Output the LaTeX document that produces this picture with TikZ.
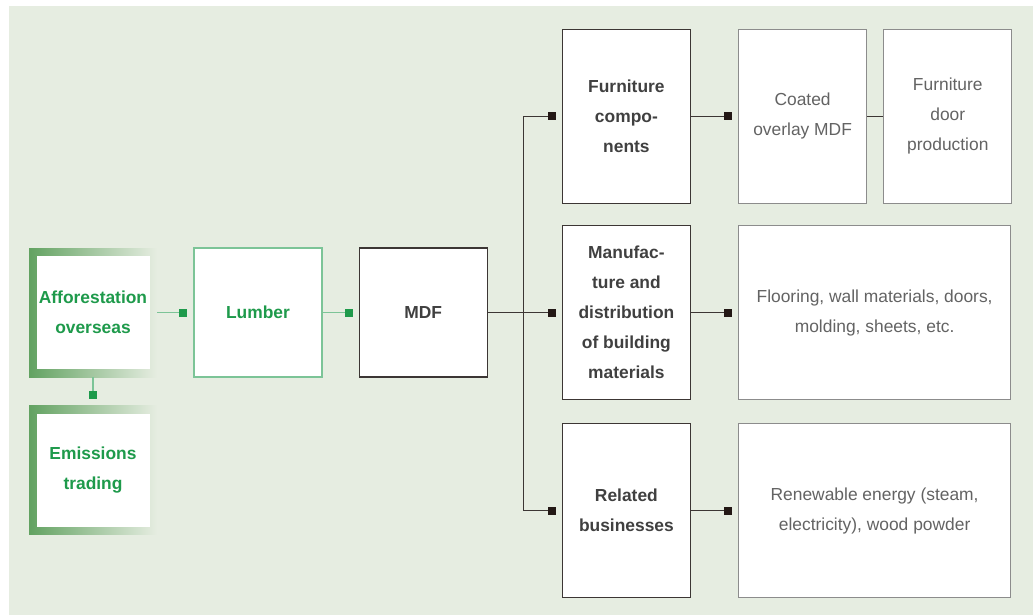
\documentclass[tikz,border=0pt]{standalone}
\usepackage{fontspec}
\setmainfont{Liberation Sans}
\usetikzlibrary{positioning,arrows.meta}

\definecolor{bggreen}{HTML}{E6EDE1}
\definecolor{leafgreen}{HTML}{1E9A4B}
\definecolor{framegreen}{HTML}{62A261}
\definecolor{linegreen}{HTML}{7CC497}
\definecolor{darkline}{HTML}{3C3634}
\definecolor{lightline}{HTML}{8C8C8C}
\definecolor{sqdark}{HTML}{231815}
\definecolor{txtdark}{HTML}{404040}
\definecolor{txtlight}{HTML}{636363}

\begin{document}
\begin{tikzpicture}[x=0.5pt, y=-0.5pt, node distance=18pt and 18pt,
  every node/.style={font=\fontsize{8.7}{15}\selectfont, align=center, inner sep=0pt},
  greenframe/.style={minimum width=64pt, minimum height=64.5pt, left color=framegreen, right color=bggreen},
  whitein/.style={fill=white, minimum width=56.5pt, minimum height=56.5pt, text=leafgreen, font=\fontsize{8.7}{15}\selectfont\bfseries},
  lumberbox/.style={draw=linegreen, fill=white, line width=0.6pt, minimum width=64pt, minimum height=64.5pt, text=leafgreen, font=\fontsize{8.7}{15}\selectfont\bfseries},
  mainbox/.style={draw=darkline, fill=white, line width=0.6pt, minimum width=64pt, text=txtdark, font=\fontsize{8.7}{15}\selectfont\bfseries},
  sidebox/.style={draw=lightline, fill=white, line width=0.6pt, minimum width=64pt, text=txtlight},
  tall/.style={minimum height=87pt},
  greenlink/.style={draw=linegreen, line width=0.6pt, -{Square[length=4pt,width=4pt,color=leafgreen]}, shorten >=3pt},
  darklink/.style={draw=darkline, line width=0.6pt},
  darktip/.style={-{Square[length=4pt,width=4pt,color=sqdark]}, shorten >=3pt}]

  \useasboundingbox (0,0) rectangle (1033,615);
  \fill[bggreen] (9,6) rectangle (1033,615);

  % green side
  \node[greenframe] (afo) at (93,312.5) {};
  \node[whitein] (afotxt) at (afo.center) {Afforestation\\overseas};
  \node[greenframe, below=14pt of afo] (emi) {};
  \node[whitein] (emitxt) at (emi.center) {Emissions\\trading};
  \node[lumberbox, right=18pt of afo] (lum) {Lumber};
  \node[mainbox, minimum height=64.5pt, right=18pt of lum] (mdf) {MDF};

  % product columns
  \node[mainbox, tall, right=37pt of mdf] (build) {Manufac-\\ture and\\distribution\\of building\\materials};
  \node[mainbox, tall, above=10.5pt of build] (furn) {Furniture\\compo-\\nents};
  \node[mainbox, tall, below=11.5pt of build] (rel) {Related\\businesses};
  \node[sidebox, tall, right=23.5pt of furn] (coat) {Coated\\overlay MDF};
  \node[sidebox, tall, right=8pt of coat] (door) {Furniture\\door\\production};
  \node[sidebox, tall, minimum width=136pt, right=23.5pt of build] (floor) {Flooring, wall materials, doors,\\molding, sheets, etc.};
  \node[sidebox, tall, minimum width=136pt, right=23.5pt of rel] (renew) {Renewable energy (steam,\\electricity), wood powder};

  \coordinate (fork) at ([xshift=18pt]mdf.east);

  \draw[greenlink] (afo) -- (lum);
  \draw[greenlink] (afo) -- (emi);
  \draw[greenlink] (lum) -- (mdf);

  \draw[darklink] (mdf.east) -- (fork);
  \draw[darklink, darktip] (fork) |- (furn.west);
  \draw[darklink, darktip] (fork) -- (build.west);
  \draw[darklink, darktip] (fork) |- (rel.west);
  \draw[darklink, darktip] (furn) -- (coat);
  \draw[darklink, darktip] (build) -- (floor);
  \draw[darklink, darktip] (rel) -- (renew);
  \draw[darklink] (coat) -- (door);
\end{tikzpicture}
\end{document}
